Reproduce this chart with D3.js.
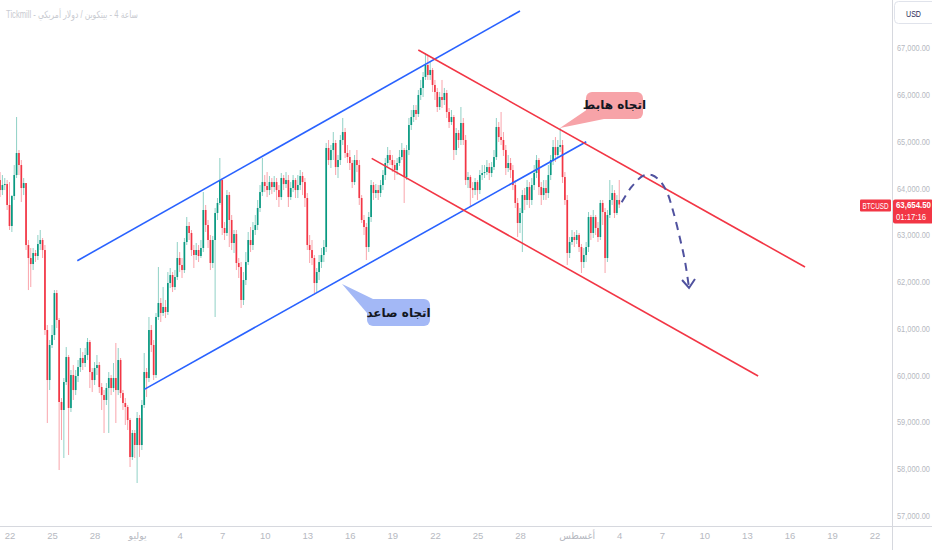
<!DOCTYPE html>
<html>
<head>
<meta charset="utf-8">
<script src="https://cdn.jsdelivr.net/npm/d3@7"></script>
<style>
  html, body { margin: 0; padding: 0; background: #fff; overflow: hidden; }
  svg { display: block; }
</style>
</head>
<body>
<div id="chart"></div>
<script>
// BTCUSD 4h bars, first bar 21 Jun 08:00 UTC, one bar every 4 hours
const startTime = Date.UTC(2024, 5, 21, 8);
const barHours = 4;
const firstOpen = 64178;

const closes = [
  63964,64071,64092,63644,63195,63836,64285,64756,64499,64007,
  64114,62788,62510,62381,62617,62553,62809,62895,62681,60970,
  59900,60649,60863,61761,61184,59430,59259,59857,60392,59302,
  60007,59686,59986,60178,60371,60264,60435,60713,60071,59900,
  60157,60221,59750,59579,59473,59729,59943,59729,59943,59686,
  60328,59622,59409,59323,59045,58253,58767,58510,59088,58510,
  59366,60071,59943,60970,60649,60007,61248,61548,61334,61462,
  61355,61975,62146,61889,62103,62510,62360,62253,62852,63195,
  63045,62681,62574,62681,62553,62724,63537,63216,62895,62403,
  62895,63473,63687,64178,63152,63045,63857,63323,62831,63023,
  62403,62317,61612,62039,62424,62895,62788,63109,63216,63580,
  63921,64135,64050,63964,64135,64028,64135,63964,63814,64221,
  64092,64178,63814,64007,64178,63964,64071,64264,64135,63793,
  62788,62681,62510,61975,62210,62424,62574,62745,64863,64606,
  64820,64970,64456,64606,65034,65205,64756,64670,64542,64135,
  64606,64499,63793,63323,63173,62745,63387,64071,63900,63964,
  63900,64071,64285,64542,64713,64606,64499,64392,64542,64670,
  64820,64242,64820,65355,65526,65676,65590,65997,66147,66382,
  66639,66425,66532,66211,66061,65740,65954,65890,66040,65633,
  65419,65526,64820,65184,65034,65398,65034,64178,64242,64007,
  63964,64135,63964,64285,64328,64349,64456,64328,64456,64670,
  65312,65098,65034,64820,64435,64542,64392,64071,63687,63259,
  63473,63857,63751,64028,63751,64071,64328,64606,64028,63857,
  64007,63900,64285,64606,64884,64713,64884,64927,64242,63751,
  62617,62852,62959,62895,63002,62745,62424,62574,62745,63387,
  63045,63387,63152,62959,63687,63494,62510,63430,63751,63900,
  63473,63751,63654.5
];

const highs = [
  64349,64285,64221,64178,64135,63857,64499,65526,64820,64606,
  64221,64114,62895,62724,62724,62681,63002,63109,62938,62788,
  61077,60756,61077,61825,61825,61227,59515,59943,60606,60435,
  60114,60221,60114,60328,60585,60499,60585,60799,60756,60157,
  60285,60435,60285,59836,59686,59836,60071,60007,60264,60692,
  60585,60371,59686,59515,59366,59088,58831,58831,59216,59152,
  59473,60478,60157,61248,61077,60756,61334,62317,61654,61889,
  61612,62210,62296,62210,62253,62852,62638,62510,62938,63387,
  63280,63109,62788,62831,62788,62895,63921,63644,63323,63002,
  62981,63580,63793,64649,64221,63280,63964,63921,63430,63109,
  63109,62510,62424,62210,62638,63066,63173,63280,63430,63751,
  64071,64649,64285,64349,64264,64221,64264,64221,64071,64328,
  64285,64349,64285,64135,64285,64221,64285,64392,64349,64221,
  63900,63002,62895,62574,62296,62574,62724,62895,64970,65034,
  64927,65205,65034,64713,65141,65505,65291,64927,64820,64606,
  64713,64820,64606,63857,63430,63259,63494,64178,64135,64092,
  64071,64178,64392,64649,64884,64820,64713,64606,64649,64820,
  64970,64863,64927,65505,65676,65783,65783,66104,66318,66489,
  66896,66853,66703,66575,66318,66147,66061,66318,66147,66104,
  65719,65676,65569,65291,65248,65740,65505,65141,64349,64285,
  64135,64221,64178,64392,64499,64499,64606,64542,64563,64820,
  65505,65419,65633,65205,64927,64713,64649,64499,64178,63793,
  63580,63964,64007,64178,64135,64221,64499,64713,64649,64135,
  64178,64178,64499,64713,65034,65098,65034,65291,65034,64349,
  63857,62959,63109,63066,63109,63045,62809,62724,62852,63494,
  63430,63537,63430,63280,63751,63751,63580,63537,64178,64071,
  63964,63857,64178
];

const lows = [
  63814,63857,63964,63537,63109,63066,63751,64221,64285,63708,
  63857,62681,61825,61889,62253,62424,62467,62681,62510,60863,
  58981,59686,60585,60756,61013,57975,58617,58232,59793,58296,
  59216,59473,59579,59857,60071,60114,60178,60328,59729,59643,
  59793,60007,59622,59259,58767,59366,58767,59579,59643,58981,
  59579,59515,59259,58938,58831,58039,58189,58232,57697,58253,
  58403,59302,59536,59857,60499,59900,59943,61184,61141,61270,
  61227,61291,61868,61782,61825,62039,62210,62082,62189,62788,
  62895,62553,62296,62467,62424,62510,62638,63066,62724,62253,
  62296,61248,63323,63644,63002,62895,62981,62745,62681,62617,
  62253,62082,61441,61505,61932,62360,62638,62681,63002,63109,
  63494,63836,63921,63814,63857,63878,63921,63751,63601,63751,
  63964,64007,63601,63751,63921,63793,63793,63964,63857,63601,
  62681,62403,62360,61761,61782,62039,62296,62424,62638,64499,
  64435,64606,64285,64221,64499,64927,64649,64542,64392,64007,
  64071,64349,63644,63259,63002,62467,62638,63280,63751,63793,
  63751,63814,63964,64178,64435,64499,64349,64178,64285,64478,
  64606,63687,64178,64713,65248,65419,65462,65526,65890,65954,
  66318,66318,66318,66061,65890,65633,65676,65719,65783,65505,
  65291,65355,64606,64713,64863,64927,64927,64071,64007,63601,
  63793,63857,63751,63878,64178,64221,64285,64178,64242,64392,
  64606,64991,64927,64692,64285,64349,64221,63964,63580,62959,
  63045,62638,63537,63644,63580,63644,63964,64221,63857,63644,
  63751,63751,63793,64178,64499,64563,64649,64777,64114,63644,
  62360,62510,62788,62745,62809,62638,62189,62296,62424,62638,
  62895,62938,63002,62852,62895,63216,62189,62424,63366,63644,
  63366,63430,63580
];

const lastPrice = 63654.5;
const barCountdown = "01:17:16";
const symbolName = "BTCUSD";
const currencyName = "USD";
const titleText = "Tickmill - بيتكوين / دولار أمريكي \u200E- 4 ساعة";

const priceTicks = [57000, 58000, 59000, 60000, 61000, 62000, 63000, 64000, 65000, 66000, 67000];
const dateTicks = ["2024-06-22","2024-06-25","2024-06-28","2024-07-01","2024-07-04","2024-07-07",
  "2024-07-10","2024-07-13","2024-07-16","2024-07-19","2024-07-22","2024-07-25","2024-07-28",
  "2024-08-01","2024-08-04","2024-08-07","2024-08-10","2024-08-13","2024-08-16","2024-08-19","2024-08-22"];
const dateTickLabels = ["22","25","28","يوليو","4","7","10","13","16","19","22","25","28",
  "أغسطس","4","7","10","13","16","19","22"];

// drawings: [time, price]
const upChannelTop = [["2024-06-26T18:43Z", 62452], ["2024-07-28T00:00Z", 67794]];
const upChannelBottom = [["2024-07-01T12:10Z", 59701], ["2024-08-01T16:05Z", 64998]];
const downChannelTop = [["2024-07-20T19:55Z", 66960], ["2024-08-17T02:25Z", 62317]];
const downChannelBottom = [["2024-07-17T13:00Z", 64642], ["2024-08-13T19:00Z", 59986]];

const projectionPath = [
  ["2024-08-04T04:05Z", 63702], ["2024-08-04T21:07Z", 64035], ["2024-08-05T16:48Z", 64271],
  ["2024-08-06T06:58Z", 64286], ["2024-08-06T21:07Z", 64157], ["2024-08-07T08:24Z", 63929],
  ["2024-08-07T19:26Z", 63501], ["2024-08-08T06:43Z", 62932], ["2024-08-08T15:22Z", 62431],
  ["2024-08-08T22:05Z", 61869]
];
const projectionArrow = [["2024-08-08T10:19Z", 62040], ["2024-08-08T22:05Z", 61869], ["2024-08-09T08:10Z", 62061]];

const downCallout = { t: "2024-07-30T19:40Z", p: 65291, text: "اتجاه هابط" };
const upCallout = { t: "2024-07-15T10:48Z", p: 61954, text: "اتجاه صاعد" };

// ---------------------------------------------------------------
const width = 932, height = 550;
const plotRight = 892, plotBottom = 526;
const upColor = "#089981", downColor = "#f23645";
const axisText = "#b6b9c1";
const axisFont = "'Liberation Sans', 'DejaVu Sans', sans-serif";

const svg = d3.select("#chart").append("svg")
  .attr("width", width)
  .attr("height", height)
  .style("background", "#ffffff");

const x = d3.scaleUtc()
  .domain([new Date(Date.UTC(2024, 5, 22)), new Date(Date.UTC(2024, 7, 22))])
  .range([9.5, 874.5]);
const y = d3.scaleLinear().domain([57000, 67000]).range([515.6, 48.1]);

const candles = closes.map((c, i) => {
  const o = i === 0 ? firstOpen : closes[i - 1];
  return {
    t: d3.utcHour.offset(new Date(startTime), i * barHours),
    o, c,
    h: Math.max(highs[i], o, c),
    l: Math.min(lows[i], o, c)
  };
});

svg.append("defs").append("clipPath").attr("id", "plot-clip")
  .append("rect").attr("x", 0).attr("y", 0).attr("width", plotRight).attr("height", plotBottom);

const plot = svg.append("g").attr("clip-path", "url(#plot-clip)");

// Title
svg.append("text")
  .attr("x", 6).attr("y", 18)
  .attr("font-family", axisFont)
  .attr("font-size", 10)
  .attr("textLength", 132)
  .attr("lengthAdjust", "spacingAndGlyphs")
  .attr("fill", "#c9cbd1")
  .text(titleText);

// Candles
const candleG = plot.append("g");
candleG.selectAll("line").data(candles).join("line")
  .attr("x1", d => x(d.t)).attr("x2", d => x(d.t))
  .attr("y1", d => y(d.h)).attr("y2", d => y(d.l))
  .attr("stroke", d => d.c >= d.o ? upColor : downColor)
  .attr("stroke-opacity", 0.45)
  .attr("stroke-width", 1);

candleG.selectAll("rect").data(candles).join("rect")
  .attr("x", d => x(d.t) - 0.85)
  .attr("width", 1.7)
  .attr("y", d => y(Math.max(d.o, d.c)))
  .attr("height", d => Math.max(1, Math.abs(y(d.o) - y(d.c))))
  .attr("fill", d => d.c >= d.o ? upColor : downColor);

// Trend lines
const pt = d => [x(d3.isoParse(d[0])), y(d[1])];
const straight = d3.line().x(d => pt(d)[0]).y(d => pt(d)[1]);

[[upChannelTop, "#2962ff"], [upChannelBottom, "#2962ff"],
 [downChannelTop, downColor], [downChannelBottom, downColor]].forEach(([seg, col]) => {
  plot.append("path")
    .attr("d", straight(seg))
    .attr("fill", "none")
    .attr("stroke", col)
    .attr("stroke-width", 1.6);
});

// Projection (dashed curve + arrow)
plot.append("path")
  .attr("d", d3.line().x(d => pt(d)[0]).y(d => pt(d)[1]).curve(d3.curveCatmullRom.alpha(0.5))(projectionPath))
  .attr("fill", "none")
  .attr("stroke", "#50529f")
  .attr("stroke-width", 2)
  .attr("stroke-dasharray", "8,6");

plot.append("path")
  .attr("d", straight(projectionArrow))
  .attr("fill", "none")
  .attr("stroke", "#50529f")
  .attr("stroke-width", 2);

// Callouts
function callout(c, fill, box, tail) {
  const [tx, ty] = [x(d3.isoParse(c.t)), y(c.p)];
  const g = plot.append("g").attr("transform", `translate(${tx},${ty})`);
  g.append("path")
    .attr("d", "M" + tail.map(p => p.join(",")).join("L") + "Z")
    .attr("fill", fill);
  g.append("rect")
    .attr("x", box[0]).attr("y", box[1])
    .attr("width", box[2]).attr("height", box[3])
    .attr("rx", 6)
    .attr("fill", fill);
  g.append("text")
    .attr("x", box[0] + box[2] / 2).attr("y", box[1] + box[3] / 2)
    .attr("text-anchor", "middle")
    .attr("dominant-baseline", "central")
    .attr("font-family", "'DejaVu Sans', sans-serif")
    .attr("font-weight", "bold")
    .attr("font-size", 12)
    .attr("fill", "#131722")
    .text(c.text);
}
callout(downCallout, "#f7a3a8", [26, -36, 57, 27], [[0, 0], [28, -19], [44, -9]]);
callout(upCallout, "#a3b8f6", [25, 15, 63, 27], [[0, 0], [31, 15], [25, 29]]);

// Axes frame
svg.append("line").attr("x1", 0).attr("x2", width).attr("y1", plotBottom + 0.5).attr("y2", plotBottom + 0.5)
  .attr("stroke", "#d6d8de");
svg.append("line").attr("x1", plotRight + 0.5).attr("x2", plotRight + 0.5).attr("y1", 0).attr("y2", height)
  .attr("stroke", "#d6d8de");

// X axis
const xAxis = d3.axisBottom(x)
  .tickValues(dateTicks.map(d => d3.isoParse(d + "T00:00Z")))
  .tickFormat((d, i) => dateTickLabels[i])
  .tickSize(0)
  .tickPadding(6);
const xg = svg.append("g").attr("transform", `translate(0,${plotBottom})`).call(xAxis);
xg.select(".domain").remove();
xg.selectAll("text")
  .attr("font-family", axisFont)
  .attr("font-size", 9.5)
  .attr("fill", axisText);

// Y axis
const yAxis = d3.axisRight(y)
  .tickValues(priceTicks)
  .tickFormat(d3.format(",.2f"))
  .tickSize(0)
  .tickPadding(5);
const yg = svg.append("g").attr("transform", `translate(${plotRight},0)`).call(yAxis);
yg.select(".domain").remove();
yg.selectAll("text")
  .attr("font-family", axisFont)
  .attr("font-size", 9)
  .attr("textLength", 33)
  .attr("lengthAdjust", "spacingAndGlyphs")
  .attr("fill", axisText);

// Currency box
svg.append("rect")
  .attr("x", 894.5).attr("y", 1.5).attr("width", 44).attr("height", 22).attr("rx", 4)
  .attr("fill", "#fff").attr("stroke", "#e0e3eb");
svg.append("text")
  .attr("x", 906).attr("y", 16.5)
  .attr("font-family", axisFont)
  .attr("font-size", 9.5)
  .attr("textLength", 15)
  .attr("lengthAdjust", "spacingAndGlyphs")
  .attr("fill", "#2a2e5a")
  .text(currencyName);

// Last price labels
const ly = y(lastPrice);
svg.append("rect")
  .attr("x", plotRight + 1).attr("y", ly - 5).attr("width", width - plotRight).attr("height", 24)
  .attr("rx", 2).attr("fill", downColor);
svg.append("text")
  .attr("x", plotRight + 4).attr("y", ly + 0.5)
  .attr("dominant-baseline", "central")
  .attr("font-family", axisFont)
  .attr("font-size", 9).attr("font-weight", "bold")
  .attr("textLength", 35)
  .attr("lengthAdjust", "spacingAndGlyphs")
  .attr("fill", "#fff")
  .text(d3.format(",.2f")(lastPrice));
svg.append("text")
  .attr("x", plotRight + 4).attr("y", ly + 12)
  .attr("dominant-baseline", "central")
  .attr("font-family", axisFont)
  .attr("font-size", 9)
  .attr("textLength", 30)
  .attr("lengthAdjust", "spacingAndGlyphs")
  .attr("fill", "#fff")
  .text(barCountdown);

svg.append("rect")
  .attr("x", 860).attr("y", ly - 5).attr("width", plotRight - 861).attr("height", 12)
  .attr("rx", 1).attr("fill", downColor);
svg.append("text")
  .attr("x", 862.5).attr("y", ly + 1)
  .attr("dominant-baseline", "central")
  .attr("font-family", axisFont)
  .attr("font-size", 9)
  .attr("textLength", 26)
  .attr("lengthAdjust", "spacingAndGlyphs")
  .attr("fill", "#fff")
  .text(symbolName);
</script>
</body>
</html>
